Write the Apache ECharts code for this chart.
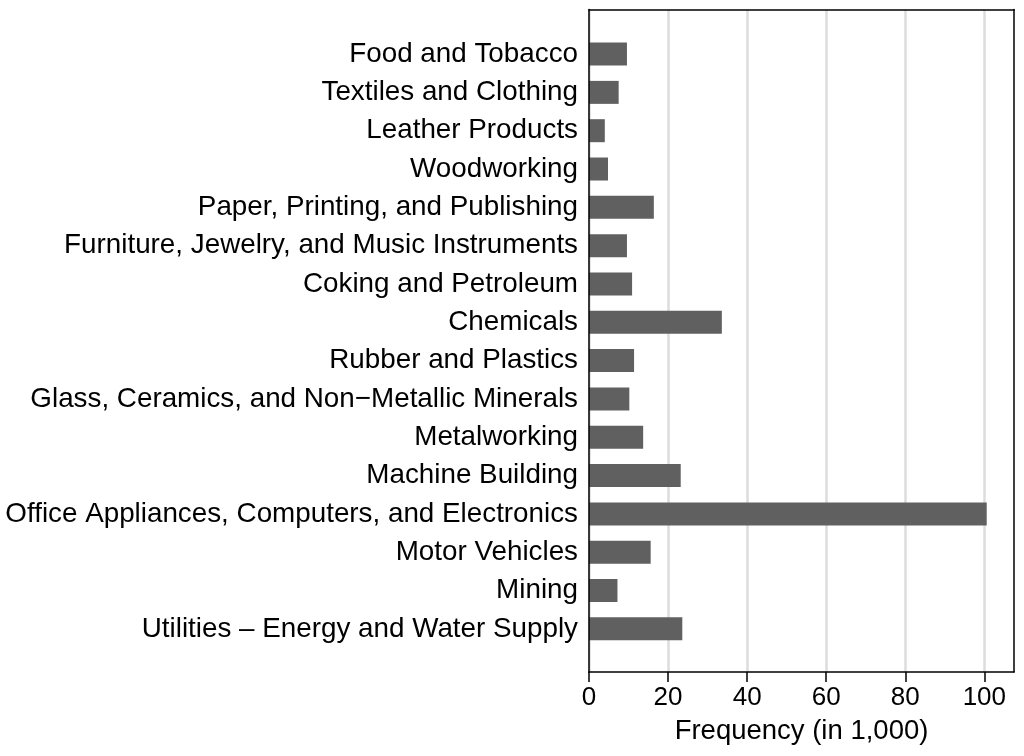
<!DOCTYPE html>
<html>
<head>
<meta charset="utf-8">
<script src="https://cdn.jsdelivr.net/npm/echarts@6/dist/echarts.min.js"></script>
<style>html,body{margin:0;padding:0;background:#fff;}#c{width:1024px;height:756px;}</style>
</head>
<body>
<div id="c"></div>
<script>
const categories = [
  "Food and Tobacco",
  "Textiles and Clothing",
  "Leather Products",
  "Woodworking",
  "Paper, Printing, and Publishing",
  "Furniture, Jewelry, and Music Instruments",
  "Coking and Petroleum",
  "Chemicals",
  "Rubber and Plastics",
  "Glass, Ceramics, and Non\u2212Metallic Minerals",
  "Metalworking",
  "Machine Building",
  "Office Appliances, Computers, and Electronics",
  "Motor Vehicles",
  "Mining",
  "Utilities \u2013 Energy and Water Supply"
];
const values = [9.6, 7.5, 4.0, 4.8, 16.4, 9.6, 10.9, 33.6, 11.4, 10.2, 13.7, 23.2, 100.6, 15.6, 7.2, 23.6];
const xTicks = [0, 20, 40, 60, 80, 100];
const xMax = 107.5;
const xTitle = "Frequency (in 1,000)";

const font = "'Liberation Sans', Arial, Helvetica, sans-serif";
const chart = echarts.init(document.getElementById('c'), null, {renderer: 'canvas'});
const frameLine = {show: true, onZero: false, lineStyle: {color: '#000', width: 1.5}};
chart.setOption({
  animation: false,
  backgroundColor: '#fff',
  grid: [
    {left: 589, right: 10, top: 9.5, bottom: 84},
    {left: 589, right: 10, top: 34.9, bottom: 108}
  ],
  xAxis: [
    {
      gridIndex: 0, type: 'value', min: 0, max: xMax, interval: 20, position: 'bottom',
      axisLine: frameLine,
      axisTick: {show: true, length: 10, customValues: xTicks, lineStyle: {color: '#000', width: 1.5}},
      axisLabel: {customValues: xTicks, fontSize: 26, color: '#000', fontFamily: font, margin: 13},
      splitLine: {show: true, lineStyle: {color: '#dcdcdc', width: 2.5}},
      name: xTitle, nameLocation: 'middle', nameGap: 45,
      nameTextStyle: {fontSize: 27.5, color: '#000', fontFamily: font}
    },
    {gridIndex: 1, type: 'value', min: 0, max: xMax, show: false},
    {
      gridIndex: 0, type: 'value', min: 0, max: xMax, position: 'top', z: 10,
      axisLine: frameLine, axisTick: {show: false}, axisLabel: {show: false}, splitLine: {show: false}
    }
  ],
  yAxis: [
    {
      gridIndex: 0, type: 'value', min: 0, max: 1, position: 'left', z: 10,
      axisLine: frameLine, axisTick: {show: false}, axisLabel: {show: false}, splitLine: {show: false}
    },
    {
      gridIndex: 1, type: 'category', data: categories, inverse: true,
      axisLine: {show: false}, axisTick: {show: false}, splitLine: {show: false},
      axisLabel: {fontSize: 27.8, color: '#000', fontFamily: font, margin: 11}
    },
    {
      gridIndex: 0, type: 'value', min: 0, max: 1, position: 'right', z: 10,
      axisLine: frameLine, axisTick: {show: false}, axisLabel: {show: false}, splitLine: {show: false}
    }
  ],
  series: [{
    type: 'bar', xAxisIndex: 1, yAxisIndex: 1, data: values, barWidth: 23,
    itemStyle: {color: '#606060'}
  }]
});
</script>
</body>
</html>
